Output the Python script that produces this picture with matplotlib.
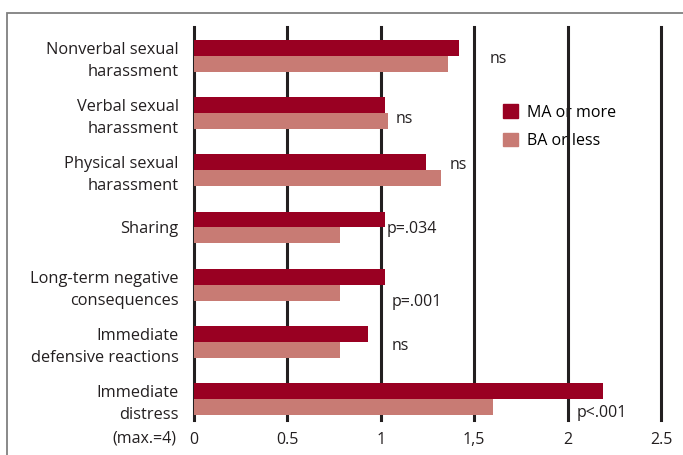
import matplotlib
matplotlib.use('Agg')
import matplotlib.pyplot as plt
from matplotlib.patches import Rectangle, Patch

# datos
categorias = ['Nonverbal sexual\nharassment', 'Verbal sexual\nharassment',
              'Physical sexual\nharassment', 'Sharing',
              'Long-term negative\nconsequences', 'Immediate\ndefensive reactions',
              'Immediate\ndistress']
ma_mas = [1.42, 1.02, 1.24, 1.02, 1.02, 0.93, 2.19]
ba_menos = [1.36, 1.04, 1.32, 0.78, 0.78, 0.78, 1.60]
etiquetas_p = ['ns', 'ns', 'ns', 'p=.034', 'p=.001', 'ns', 'p<.001']
pos_p = [(1.58, 0.06), (1.08, 1.1), (1.37, 1.9), (1.03, 3.03), (1.06, 4.31), (1.06, 5.08), (2.05, 6.25)]
ticks_x = [0, 0.5, 1, 1.5, 2, 2.5]
ticks_lbl = ['0', '0.5', '1', '1,5', '2', '2.5']

c_ma = '#990022'
c_ba = '#C87B74'

plt.rcParams['font.family'] = ['Open Sans', 'DejaVu Sans']

fig = plt.figure(figsize=(6.83, 4.55), dpi=100)
W, H = 683, 455
ax = fig.add_axes([194 / W, 1 - 420 / H, (661 - 194) / W, (420 - 27) / H])

# marco exterior
fig.patches.append(Rectangle((7 / W, -0.1), 1.2, 1.1 - 13 / H, transform=fig.transFigure,
                             fill=False, edgecolor='#808080', linewidth=1.3))

h = 16 / 57.2
y = list(range(len(categorias)))
ax.barh([i - h / 2 for i in y], ma_mas, height=h, color=c_ma, zorder=3, label='MA or more')
ax.barh([i + h / 2 for i in y], ba_menos, height=h, color=c_ba, zorder=3, label='BA or less')

for t in ticks_x:
    ax.axvline(t, color='#231f20', linewidth=2.2, zorder=2, clip_on=False)

for txt, (px, py) in zip(etiquetas_p, pos_p):
    ax.text(px, py, txt, fontsize=11.5, color='#231f20', va='center', ha='left', zorder=4)

ax.set_xlim(0, 2.5)
ax.set_ylim(6 + (420 - 399) / 57.2, -(56 - 27) / 57.2)
ax.set_yticks(y)
ax.set_yticklabels(categorias, fontsize=11.8, color='#231f20', linespacing=1.5)
ax.set_xticks(ticks_x)
ax.set_xticklabels(ticks_lbl, fontsize=11.5, color='#231f20')
ax.tick_params(axis='both', length=0)
ax.tick_params(axis='y', pad=11)
ax.tick_params(axis='x', pad=9)
for s in ax.spines.values():
    s.set_visible(False)

ax.text(-18 / 467, 1 - (438 - 27) / (420 - 27), '(max.=4)', transform=ax.transAxes,
        fontsize=11.5, color='#231f20', ha='right', va='center')

leg = ax.legend(handles=[Patch(color=c_ma, label='MA or more'), Patch(color=c_ba, label='BA or less')],
                loc='upper left', bbox_to_anchor=((497 - 194) / 467, 1 - (98 - 27) / 393),
                frameon=False, fontsize=11.5, handlelength=0.9, handleheight=0.9,
                handletextpad=0.55, borderaxespad=0, labelspacing=0.75)
leg.set_zorder(1)

fig.savefig('out.png', dpi=100)
